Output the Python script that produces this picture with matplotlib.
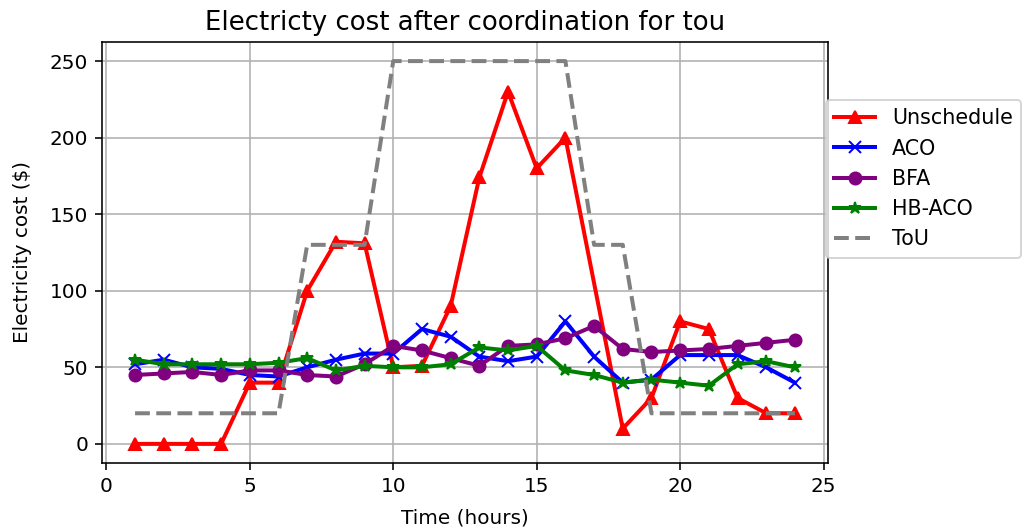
# -*- coding: utf-8 -*-
import matplotlib
matplotlib.use('Agg')
import matplotlib.pyplot as plt

# %% Data

hours = list(range(1, 25))
unsched_hours = list(range(1, 17)) + list(range(18, 25))

unschedule = [0, 0, 0, 0, 40, 40, 100, 132, 131, 50, 51, 90,
              174, 230, 180, 200, 10, 30, 80, 75, 30, 20, 20]
aco = [52, 55, 50, 49, 45, 44, 50, 55, 59, 59, 75, 70,
       57, 54, 57, 80, 57, 40, 42, 58, 58, 58, 50, 40]
bfa = [45, 46, 47, 45, 48, 48, 45, 44, 52, 64, 61, 56,
       51, 64, 65, 69, 77, 62, 60, 61, 62, 64, 66, 68]
hb_aco = [55, 52, 52, 52, 52, 53, 56, 48, 51, 50, 50, 52,
          63, 61, 64, 48, 45, 40, 42, 40, 38, 52, 54, 50]
tou = [20, 20, 20, 20, 20, 20, 130, 130, 130, 250, 250, 250,
       250, 250, 250, 250, 130, 130, 20, 20, 20, 20, 20, 20]

# %% Plot

fig = plt.figure(figsize=(1031 / 144, 531 / 144), dpi=144)
ax = fig.add_axes([0.099, 0.128, 0.704, 0.793])

ax.plot(unsched_hours, unschedule, color='red', marker='^', lw=2, label='Unschedule')
ax.plot(hours, aco, color='blue', marker='x', lw=2, label='ACO')
ax.plot(hours, bfa, color='purple', marker='o', lw=2, label='BFA')
ax.plot(hours, hb_aco, color='green', marker='*', lw=2, label='HB-ACO')
ax.plot(hours, tou, color='gray', ls='--', lw=2, label='ToU')

ax.set_title('Electricty cost after coordination for tou', fontsize=13)
ax.set_xlabel('Time (hours)', labelpad=6)
ax.set_ylabel('Electricity cost ($)', labelpad=9)
ax.set_xticks([0, 5, 10, 15, 20, 25])
ax.set_yticks([0, 50, 100, 150, 200, 250])
ax.grid()

fig.legend(loc='upper left', bbox_to_anchor=(826 / 1031, 1 - 100 / 531),
           borderaxespad=0, fontsize=10.3)

fig.savefig('out.png', dpi=144)
